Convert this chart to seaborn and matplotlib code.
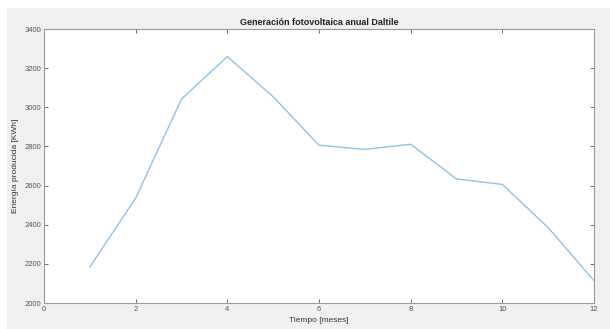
import numpy as np
import pandas as pd
import matplotlib
matplotlib.use('Agg')
import matplotlib.pyplot as plt
import seaborn as sns
from matplotlib.patches import Rectangle

# 数据：每月光伏发电量
meses = [1, 2, 3, 4, 5, 6, 7, 8, 9, 10, 11, 12]
energia = [2184, 2536, 3042, 3259, 3054, 2806, 2785, 2811, 2634, 2606, 2385, 2114]

df = pd.DataFrame({'mes': meses, 'energia': energia})

sns.set_theme(style='white')
plt.rcParams['font.family'] = ['Liberation Sans', 'DejaVu Sans']

fig = plt.figure(figsize=(6.10, 3.29), dpi=100)
fig.patch.set_facecolor('white')
# 灰色背景（截图边框）
fig.patches.append(Rectangle((7 / 610, 0), 1 - 7 / 610, 1 - 8 / 329,
                             transform=fig.transFigure, facecolor='#f0f0f0',
                             edgecolor='none', zorder=-10))

ax = fig.add_axes([44 / 610, 1 - 303 / 329, 550 / 610, 274 / 329])
ax.set_facecolor('white')

sns.lineplot(data=df, x='mes', y='energia', ax=ax, color='#8dc2ea', linewidth=1.0)

ax.set_xlim(0, 12)
ax.set_ylim(2000, 3400)
ax.set_xticks(np.arange(0, 13, 2))
ax.set_yticks(np.arange(2000, 3401, 200))

gris = '#555555'
ax.tick_params(axis='both', direction='in', length=3, width=0.6, color=gris,
               labelsize=5.5, labelcolor=gris, top=True, right=True,
               bottom=True, left=True, pad=2)
for s in ax.spines.values():
    s.set_color('#999999')
    s.set_linewidth(0.8)

ax.set_title('Generación fotovoltaica anual Daltile', fontsize=6.5,
             fontweight='bold', color='#222222', pad=3)
ax.set_xlabel('Tiempo [meses]', fontsize=6, color='#333333', labelpad=3)
ax.set_ylabel('Energía producida [KWh]', fontsize=6, color='#333333', labelpad=4)

fig.savefig('out.png', dpi=100)
